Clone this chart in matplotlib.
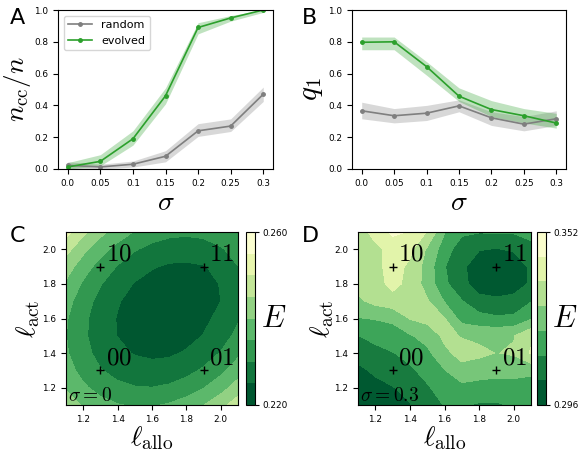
import numpy as np
import matplotlib
matplotlib.use('Agg')
import matplotlib.pyplot as plt

plt.rcParams['mathtext.fontset'] = 'cm'
plt.rcParams['font.family'] = ['DejaVu Sans']

# ---------------- data: panels A & B ----------------
sigma = [0.0, 0.05, 0.1, 0.15, 0.2, 0.25, 0.3]
sigma_labels = ['0.0', '0.05', '0.1', '0.15', '0.2', '0.25', '0.3']

ncc_random = [0.023, 0.013, 0.03, 0.08, 0.24, 0.27, 0.47]
ncc_random_lo = [0.003, 0.0, 0.012, 0.045, 0.205, 0.236, 0.425]
ncc_random_hi = [0.045, 0.03, 0.05, 0.115, 0.285, 0.315, 0.515]
ncc_evolved = [0.013, 0.048, 0.19, 0.46, 0.89, 0.95, 1.0]
ncc_evolved_lo = [0.0, 0.02, 0.15, 0.41, 0.85, 0.93, 0.985]
ncc_evolved_hi = [0.04, 0.09, 0.24, 0.51, 0.92, 0.965, 1.0]

q1_random = [0.366, 0.335, 0.351, 0.397, 0.322, 0.282, 0.316]
q1_random_lo = [0.316, 0.29, 0.305, 0.36, 0.274, 0.24, 0.274]
q1_random_hi = [0.42, 0.38, 0.40, 0.435, 0.36, 0.33, 0.366]
q1_evolved = [0.797, 0.80, 0.644, 0.458, 0.374, 0.335, 0.289]
q1_evolved_lo = [0.75, 0.75, 0.59, 0.425, 0.33, 0.29, 0.257]
q1_evolved_hi = [0.83, 0.83, 0.675, 0.51, 0.43, 0.38, 0.35]

# ---------------- data: panels C & D ----------------
l_allo = [1.1, 1.2, 1.3, 1.4, 1.5, 1.6, 1.7, 1.8, 1.9, 2.0, 2.1]
l_act = [1.1, 1.2, 1.3, 1.4, 1.5, 1.6, 1.7, 1.8, 1.9, 2.0, 2.1]

# rows: l_act from 1.1 (first) to 2.1 (last); columns: l_allo
E_sigma0 = [
    [0.2428, 0.2394, 0.2369, 0.2353, 0.2345, 0.2345, 0.2355, 0.2373, 0.2399, 0.2434, 0.2478],
    [0.2395, 0.2359, 0.2331, 0.2313, 0.2303, 0.2301, 0.2308, 0.2324, 0.2348, 0.2381, 0.2423],
    [0.2371, 0.2333, 0.2303, 0.2282, 0.2270, 0.2266, 0.2271, 0.2285, 0.2307, 0.2337, 0.2377],
    [0.2356, 0.2316, 0.2284, 0.2261, 0.2247, 0.2241, 0.2243, 0.2255, 0.2275, 0.2303, 0.2340],
    [0.2351, 0.2309, 0.2275, 0.2249, 0.2233, 0.2225, 0.2225, 0.2234, 0.2252, 0.2278, 0.2313],
    [0.2355, 0.2311, 0.2275, 0.2247, 0.2228, 0.2218, 0.2216, 0.2223, 0.2239, 0.2263, 0.2295],
    [0.2369, 0.2322, 0.2284, 0.2254, 0.2233, 0.2221, 0.2217, 0.2221, 0.2235, 0.2250, 0.2287],
    [0.2392, 0.2343, 0.2303, 0.2271, 0.2247, 0.2233, 0.2227, 0.2229, 0.2236, 0.2252, 0.2288],
    [0.2425, 0.2373, 0.2331, 0.2297, 0.2271, 0.2254, 0.2244, 0.2242, 0.2247, 0.2264, 0.2299],
    [0.2467, 0.2413, 0.2368, 0.2332, 0.2304, 0.2285, 0.2275, 0.2273, 0.2279, 0.2295, 0.2319],
    [0.2518, 0.2462, 0.2415, 0.2377, 0.2347, 0.2325, 0.2313, 0.2309, 0.2313, 0.2326, 0.2348],
]

E_sigma03 = [
    [0.2968, 0.2988, 0.3008, 0.3036, 0.3076, 0.3124, 0.3128, 0.3112, 0.3112, 0.3128, 0.3144],
    [0.2984, 0.3012, 0.3036, 0.3068, 0.3112, 0.3152, 0.3176, 0.3168, 0.3160, 0.3164, 0.3168],
    [0.3020, 0.3056, 0.3084, 0.3108, 0.3144, 0.3196, 0.3256, 0.3240, 0.3232, 0.3232, 0.3216],
    [0.3072, 0.3096, 0.3116, 0.3144, 0.3180, 0.3264, 0.3304, 0.3296, 0.3278, 0.3288, 0.3368],
    [0.3118, 0.3144, 0.3172, 0.3192, 0.3232, 0.3296, 0.3276, 0.3264, 0.3264, 0.3276, 0.3344],
    [0.3196, 0.3204, 0.3212, 0.3284, 0.3304, 0.3284, 0.3168, 0.3148, 0.3132, 0.3136, 0.3192],
    [0.3264, 0.3304, 0.3328, 0.3320, 0.3288, 0.3196, 0.3124, 0.3068, 0.3060, 0.3068, 0.3116],
    [0.3304, 0.3328, 0.3384, 0.3336, 0.3248, 0.3136, 0.3064, 0.3000, 0.2980, 0.3000, 0.3052],
    [0.3312, 0.3336, 0.3392, 0.3344, 0.3248, 0.3124, 0.3056, 0.2996, 0.2976, 0.3000, 0.3052],
    [0.3320, 0.3344, 0.3384, 0.3380, 0.3268, 0.3160, 0.3072, 0.3044, 0.3036, 0.3048, 0.3088],
    [0.3328, 0.3384, 0.3460, 0.3432, 0.3356, 0.3204, 0.3136, 0.3124, 0.3128, 0.3128, 0.3152],
]

marker_pts = [(1.3, 1.3), (1.3, 1.9), (1.9, 1.3), (1.9, 1.9)]
marker_labels = ['00', '10', '01', '11']

levels_C = np.linspace(0.220, 0.260, 9)
levels_D = np.linspace(0.296, 0.352, 8)

# ---------------- figure ----------------
W, H = 582, 454
fig = plt.figure(figsize=(W / 100, H / 100), dpi=100)


def ax_px(x0, y0, x1, y1):
    return fig.add_axes([x0 / W, 1 - y1 / H, (x1 - x0) / W, (y1 - y0) / H])


axA = ax_px(58, 10, 273, 169)
axB = ax_px(352, 10, 566, 169)
axC = ax_px(66, 232, 238, 405)
caxC = ax_px(246, 232, 255, 405)
axD = ax_px(358, 232, 531, 405)
caxD = ax_px(537, 232, 546, 405)

gray = '#7f7f7f'
green = '#2ca02c'
TICK = 6.4


def line_panel(ax, r, rlo, rhi, e, elo, ehi, ylabel, ylab_x, ylab_size, legend=False):
    ax.fill_between(sigma, rlo, rhi, color=gray, alpha=0.3, lw=0)
    ax.plot(sigma, r, '-o', color=gray, ms=2.5, lw=1.2, label='random')
    ax.fill_between(sigma, elo, ehi, color=green, alpha=0.3, lw=0)
    ax.plot(sigma, e, '-o', color=green, ms=2.5, lw=1.2, label='evolved')
    ax.set_ylim(0, 1)
    ax.set_xticks(sigma)
    ax.set_xticklabels(sigma_labels)
    ax.set_yticks([0, 0.2, 0.4, 0.6, 0.8, 1.0])
    ax.tick_params(labelsize=TICK, length=3.5)
    ax.set_xlabel(r'$\sigma$', fontsize=20, labelpad=0)
    ax.set_ylabel(ylabel, fontsize=ylab_size, va='center')
    ax.yaxis.set_label_coords(ylab_x, 0.5)
    if legend:
        ax.legend(loc='upper left', fontsize=8, handlelength=2.2)


line_panel(axA, ncc_random, ncc_random_lo, ncc_random_hi,
           ncc_evolved, ncc_evolved_lo, ncc_evolved_hi, r'$n_{\rm cc}/n$',
           -0.19, 19.5, legend=True)
line_panel(axB, q1_random, q1_random_lo, q1_random_hi,
           q1_evolved, q1_evolved_lo, q1_evolved_hi, r'$q_1$', -0.19, 21)


def contour_panel(ax, cax, Z, levels, sig_text, lo_lab, hi_lab, ylab_x):
    cf = ax.contourf(l_allo, l_act, Z, levels=levels, cmap='YlGn_r')
    for (px, py), lab in zip(marker_pts, marker_labels):
        ax.plot(px, py, '+', color='black', ms=6, mew=1)
        ax.text(px + 0.03, py + 0.005, '$' + lab + '$', fontsize=18,
                ha='left', va='bottom')
    ax.text(0.01, 0.0, sig_text, transform=ax.transAxes, fontsize=14,
            ha='left', va='bottom')
    ax.set_xlim(1.1, 2.1)
    ax.set_ylim(1.1, 2.1)
    ax.set_xticks([1.2, 1.4, 1.6, 1.8, 2.0])
    ax.set_yticks([1.2, 1.4, 1.6, 1.8, 2.0])
    ax.tick_params(labelsize=TICK, length=3.5)
    ax.set_xlabel(r'$\ell_{\rm allo}$', fontsize=20, labelpad=0)
    ax.set_ylabel(r'$\ell_{\rm act}$', fontsize=20, va='center')
    ax.yaxis.set_label_coords(ylab_x, 0.5)
    cb = fig.colorbar(cf, cax=cax, ticks=[levels[0], levels[-1]])
    cb.ax.set_yticklabels([lo_lab, hi_lab])
    cb.ax.tick_params(labelsize=TICK, length=3, pad=2)
    cax.text(1.7, 0.5, '$E$', transform=cax.transAxes, fontsize=22,
             ha='left', va='center')


contour_panel(axC, caxC, E_sigma0, levels_C, r'$\sigma = 0$', '0.220', '0.260', -0.22)
contour_panel(axD, caxD, E_sigma03, levels_D, r'$\sigma = 0.3$', '0.296', '0.352', -0.21)

fig.text(10 / W, 1 - 8 / H, 'A', fontsize=16, va='top', ha='left')
fig.text(302 / W, 1 - 8 / H, 'B', fontsize=16, va='top', ha='left')
fig.text(10 / W, 1 - 226 / H, 'C', fontsize=16, va='top', ha='left')
fig.text(302 / W, 1 - 226 / H, 'D', fontsize=16, va='top', ha='left')

fig.savefig('out.png', dpi=100)
